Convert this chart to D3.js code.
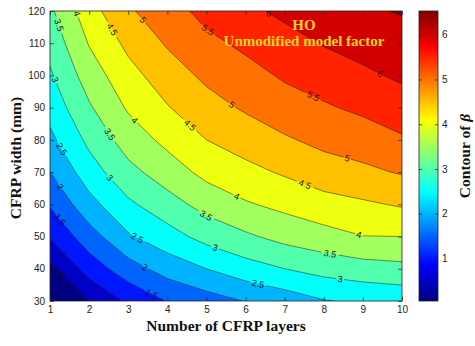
<!DOCTYPE html>
<html>
<head>
<meta charset="utf-8">
<script src="https://cdn.jsdelivr.net/npm/d3@7"></script>
<style>
  html, body { margin: 0; padding: 0; background: #fff; }
  svg { display: block; }
</style>
</head>
<body>
<svg id="chart" width="475" height="346"></svg>
<script>
// Number of CFRP layers (columns) and CFRP width in mm (rows)
const layers = [1, 2, 3, 4, 5, 6, 7, 8, 9, 10];
const widths = [30, 40, 50, 60, 70, 80, 90, 100, 110, 120];

// Reliability index β, one row per width, one column per layer count
const beta = [
  [0.05, 0.50, 1.10, 1.52, 1.78, 2.02, 2.23, 2.47, 2.58, 2.65], // 30 mm
  [0.36, 1.22, 1.78, 2.21, 2.50, 2.79, 3.00, 3.18, 3.29, 3.36], // 40 mm
  [1.05, 1.78, 2.44, 2.80, 3.17, 3.42, 3.66, 3.82, 3.99, 4.00], // 50 mm
  [1.55, 2.33, 2.91, 3.30, 3.68, 3.95, 4.13, 4.32, 4.43, 4.55], // 60 mm
  [2.00, 2.77, 3.35, 3.75, 4.14, 4.36, 4.56, 4.77, 4.90, 5.04], // 70 mm
  [2.38, 3.12, 3.73, 4.13, 4.50, 4.72, 4.94, 5.13, 5.24, 5.44], // 80 mm
  [2.68, 3.44, 4.06, 4.47, 4.81, 5.06, 5.29, 5.44, 5.60, 5.78], // 90 mm
  [2.93, 3.74, 4.33, 4.76, 5.10, 5.33, 5.56, 5.74, 5.91, 6.08], // 100 mm
  [3.17, 4.03, 4.62, 5.05, 5.38, 5.60, 5.83, 6.03, 6.18, 6.33], // 110 mm
  [3.40, 4.30, 4.93, 5.30, 5.65, 5.90, 6.10, 6.25, 6.44, 6.53]  // 120 mm
];

// Contour levels
const levels = [0.5, 1, 1.5, 2, 2.5, 3, 3.5, 4, 4.5, 5, 5.5, 6, 6.5];

// Colour bar ticks
const barTicks = [1, 2, 3, 4, 5, 6];

// Where each in-line contour label sits: [level, number of layers]
const labelSpots = [
  [0.5, 1.26], [1, 1.38], [1.5, 1.26], [2, 1.26], [2.5, 1.3], [3, 1.13],
  [3.5, 1.23], [4, 1.69], [4.5, 2.59], [5, 3.38], [5.5, 5.04], [6, 6.6],
  [1.5, 3.6], [2, 3.43], [2.5, 3.23], [3, 2.53], [3.5, 2.53], [4, 3.17],
  [2.5, 6.32], [3, 5.22], [3.5, 4.99], [4, 5.78], [4.5, 4.58], [5, 5.65],
  [3, 8.42], [3.5, 8.16], [4, 8.9], [4.5, 7.52], [5, 8.6], [5.5, 7.73], [6, 9.44]
];

const svg = d3.select('#chart');
const plot = { left: 50, right: 402, top: 11, bottom: 301 };
const bar = { left: 419, right: 438, top: 11, bottom: 301 };

const x = d3.scaleLinear().domain([d3.min(layers), d3.max(layers)]).range([plot.left, plot.right]);
const y = d3.scaleLinear().domain([d3.min(widths), d3.max(widths)]).range([plot.bottom, plot.top]);

const nx = layers.length, ny = widths.length;
const values = beta.flat();
const vmin = d3.min(values), vmax = d3.max(values);

// MATLAB-style jet colour map
function jet(t) {
  t = Math.max(0, Math.min(1, t));
  const c = v => Math.max(0, Math.min(1, v));
  const r = c(1.5 - Math.abs(4 * t - 3));
  const g = c(1.5 - Math.abs(4 * t - 2));
  const b = c(1.5 - Math.abs(4 * t - 1));
  return d3.rgb(r * 255, g * 255, b * 255).formatHex();
}
const colorOf = v => jet((v - vmin) / (vmax - vmin));

// Grid coordinates from d3.contours -> data values
const dL = layers[1] - layers[0], dW = widths[1] - widths[0];
const gridToL = gx => layers[0] + (gx - 0.5) * dL;
const gridToW = gy => widths[0] + (gy - 0.5) * dW;
const proj = d3.geoTransform({
  point(gx, gy) { this.stream.point(x(gridToL(gx)), y(gridToW(gy))); }
});
const path = d3.geoPath(proj);

const contours = d3.contours().size([nx, ny]).thresholds(levels)(values);

const defs = svg.append('defs');
defs.append('clipPath').attr('id', 'plotClip')
  .append('rect')
  .attr('x', plot.left).attr('y', plot.top)
  .attr('width', plot.right - plot.left).attr('height', plot.bottom - plot.top);

// Locate a label point on a contour at a given layer count
function locate(c, L) {
  const cx = (L - layers[0]) / dL + 0.5;
  let found = null;
  c.coordinates.forEach(poly => poly.forEach(ring => {
    for (let k = 0; k < ring.length - 1; k++) {
      const [x0, y0] = ring[k], [x1, y1] = ring[k + 1];
      if (x0 === x1) continue;
      if ((x0 - cx) * (x1 - cx) > 0) continue;
      if ((y0 === 0 && y1 === 0) || (y0 === ny && y1 === ny)) continue;
      const t = (cx - x0) / (x1 - x0);
      const gy = y0 + t * (y1 - y0);
      if (gy < 0.5 || gy > ny - 0.5) continue;
      const px0 = x(gridToL(x0)), py0 = y(gridToW(y0));
      const px1 = x(gridToL(x1)), py1 = y(gridToW(y1));
      let ang = Math.atan2(py1 - py0, px1 - px0) * 180 / Math.PI;
      if (ang > 90) ang -= 180;
      if (ang < -90) ang += 180;
      found = { px: x(gridToL(cx)), py: y(gridToW(gy)), ang };
    }
  }));
  return found;
}

const labels = labelSpots.map(([lv, L]) => {
  const c = contours.find(d => d.value === lv);
  const p = c ? locate(c, L) : null;
  return p ? { text: String(lv), ...p } : null;
}).filter(Boolean);

// Mask that breaks the contour lines under each label
const mask = defs.append('mask').attr('id', 'labelGap')
  .attr('maskUnits', 'userSpaceOnUse')
  .attr('x', 0).attr('y', 0).attr('width', 475).attr('height', 346);
mask.append('rect').attr('x', 0).attr('y', 0).attr('width', 475).attr('height', 346).attr('fill', '#fff');
labels.forEach(d => {
  const w = d.text.length * 5 + 3;
  mask.append('rect')
    .attr('x', -w / 2).attr('y', -4.5).attr('width', w).attr('height', 9)
    .attr('fill', '#000')
    .attr('transform', `translate(${d.px},${d.py}) rotate(${d.ang})`);
});

// Filled contour bands
const field = svg.append('g').attr('clip-path', 'url(#plotClip)');
field.append('rect')
  .attr('x', plot.left).attr('y', plot.top)
  .attr('width', plot.right - plot.left).attr('height', plot.bottom - plot.top)
  .attr('fill', colorOf(vmin));
field.selectAll('path.band')
  .data(contours)
  .join('path')
  .attr('class', 'band')
  .attr('d', path)
  .attr('fill', d => colorOf(d.value))
  .attr('stroke', d => colorOf(d.value))
  .attr('stroke-width', 0.3);

// Contour lines
field.append('g').attr('mask', 'url(#labelGap)')
  .selectAll('path.line')
  .data(contours)
  .join('path')
  .attr('class', 'line')
  .attr('d', path)
  .attr('fill', 'none')
  .attr('stroke', '#1e1e1e')
  .attr('stroke-width', 0.6)
  .attr('stroke-opacity', 0.85);

// Contour labels
svg.append('g').attr('clip-path', 'url(#plotClip)')
  .selectAll('text')
  .data(labels)
  .join('text')
  .attr('transform', d => `translate(${d.px},${d.py}) rotate(${d.ang})`)
  .attr('text-anchor', 'middle')
  .attr('dy', '0.35em')
  .attr('font-family', 'Liberation Sans, Arial, sans-serif')
  .attr('font-size', 9)
  .attr('fill', '#141414')
  .text(d => d.text);

// Axes with inward ticks
const tickFont = g => {
  g.select('.domain').remove();
  g.selectAll('line').attr('stroke', '#222').attr('stroke-width', 0.7);
  g.selectAll('text')
    .attr('font-family', 'Liberation Sans, Arial, sans-serif')
    .attr('font-size', 10)
    .attr('fill', '#222');
};
svg.append('g').attr('transform', `translate(0,${plot.bottom})`)
  .call(d3.axisBottom(x).tickValues(layers).tickSize(-4).tickPadding(5).tickFormat(d3.format('d')))
  .call(tickFont);
svg.append('g').attr('transform', `translate(0,${plot.top})`)
  .call(d3.axisTop(x).tickValues(layers).tickSize(-4).tickFormat(''))
  .call(tickFont);
svg.append('g').attr('transform', `translate(${plot.left},0)`)
  .call(d3.axisLeft(y).tickValues(widths).tickSize(-4).tickPadding(5).tickFormat(d3.format('d')))
  .call(tickFont);
svg.append('g').attr('transform', `translate(${plot.right},0)`)
  .call(d3.axisRight(y).tickValues(widths).tickSize(-4).tickFormat(''))
  .call(tickFont);

svg.append('rect')
  .attr('x', plot.left).attr('y', plot.top)
  .attr('width', plot.right - plot.left).attr('height', plot.bottom - plot.top)
  .attr('fill', 'none').attr('stroke', '#222').attr('stroke-width', 0.8);

// Colour bar
const grad = defs.append('linearGradient').attr('id', 'jetGrad')
  .attr('x1', 0).attr('y1', 1).attr('x2', 0).attr('y2', 0);
d3.range(0, 65).forEach(i => {
  grad.append('stop').attr('offset', i / 64).attr('stop-color', jet(i / 64));
});
svg.append('rect')
  .attr('x', bar.left).attr('y', bar.top)
  .attr('width', bar.right - bar.left).attr('height', bar.bottom - bar.top)
  .attr('fill', 'url(#jetGrad)');
const cScale = d3.scaleLinear().domain([vmin, vmax]).range([bar.bottom, bar.top]);
svg.append('g').attr('transform', `translate(${bar.right},0)`)
  .call(d3.axisRight(cScale).tickValues(barTicks).tickSize(-3).tickPadding(4).tickFormat(d3.format('d')))
  .call(tickFont);
svg.append('g').attr('transform', `translate(${bar.left},0)`)
  .call(d3.axisLeft(cScale).tickValues(barTicks).tickSize(-3).tickFormat(''))
  .call(tickFont);
svg.append('rect')
  .attr('x', bar.left).attr('y', bar.top)
  .attr('width', bar.right - bar.left).attr('height', bar.bottom - bar.top)
  .attr('fill', 'none').attr('stroke', '#222').attr('stroke-width', 0.8);

// Axis titles
const serif = 'Liberation Serif, Times New Roman, serif';
svg.append('text')
  .attr('x', (plot.left + plot.right) / 2).attr('y', 331)
  .attr('text-anchor', 'middle')
  .attr('font-family', serif).attr('font-weight', 'bold').attr('font-size', 15.5)
  .attr('fill', '#111')
  .text('Number of CFRP layers');
svg.append('text')
  .attr('transform', 'translate(21,158) rotate(-90)')
  .attr('text-anchor', 'middle')
  .attr('font-family', serif).attr('font-weight', 'bold').attr('font-size', 15.5)
  .attr('fill', '#111')
  .text('CFRP width (mm)');
const cbTitle = svg.append('text')
  .attr('transform', 'translate(470,156) rotate(-90)')
  .attr('text-anchor', 'middle')
  .attr('font-family', serif).attr('font-weight', 'bold').attr('font-size', 15.5)
  .attr('fill', '#111');
cbTitle.append('tspan').text('Contour of ');
cbTitle.append('tspan').attr('font-style', 'italic').text('β');

// Annotation inside the plot
const note = svg.append('g')
  .attr('font-family', serif).attr('font-weight', 'bold').attr('font-size', 15)
  .attr('fill', '#ffd21f').attr('text-anchor', 'middle');
note.append('text').attr('x', 304).attr('y', 30).text('HO');
note.append('text').attr('x', 304).attr('y', 46).text('Unmodified model factor');
</script>
</body>
</html>
